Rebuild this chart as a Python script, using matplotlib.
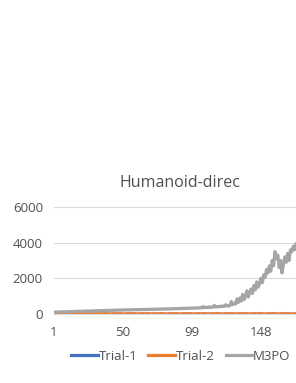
import numpy as np
import matplotlib.pyplot as plt

title = "Humanoid-direc"
series_names = ["Trial-1", "Trial-2", "M3PO"]
series_colors = ["#4472c4", "#ed7d31", "#a5a5a5"]
xtick_labels = [1, 50, 99, 148]
ytick_values = [0, 2000, 4000, 6000]

m3po = [
    90, 110, 100, 120, 105, 115, 130, 110, 125, 120,
    135, 120, 140, 130, 145, 135, 150, 140, 155, 145,
    160, 150, 165, 155, 170, 160, 175, 165, 180, 170,
    185, 175, 190, 180, 195, 185, 200, 190, 205, 195,
    210, 200, 215, 205, 220, 210, 225, 215, 230, 220,
    230, 225, 235, 228, 240, 232, 245, 236, 248, 240,
    250, 244, 255, 248, 258, 250, 262, 254, 265, 258,
    268, 260, 272, 264, 275, 268, 280, 270, 285, 275,
    290, 278, 295, 282, 300, 285, 305, 290, 310, 295,
    315, 300, 320, 305, 330, 310, 335, 315, 340, 320,
    345, 325, 350, 330, 360, 340, 420, 350, 380, 360,
    400, 370, 390, 380, 480, 390, 420, 400, 440, 410,
    450, 430, 520, 440, 480, 460, 700, 520, 600, 560,
    850, 650, 900, 720, 1100, 800, 1000, 1300, 950, 1200,
    1400, 1150, 1600, 1350, 1800, 1500, 1700, 2000, 1750, 2200,
    2050, 2500, 2300, 2700, 2400, 3000, 2700, 3500, 3100, 3300,
    2600, 3000, 2300, 2800, 3200, 2900, 3400, 3000, 3600, 3500,
    3800, 3600, 3950, 3800, 4000,
]

trial1 = [
    -10, -5, -15, -8, -12, -6, -14, -9, -11, -7,
] * 17 + [-10, -5, -15, -8, -12]

trial2 = [
    -20, 10, -5, 25, -15, 5, 30, -10, 15, -25,
] * 17 + [-20, 10, -5, 25, -15]

x = np.arange(1, len(m3po) + 1)

fig = plt.figure(figsize=(2.96, 3.83), dpi=100)
plt.rcParams['font.family'] = ['Open Sans', 'DejaVu Sans']

ax = fig.add_axes([54 / 296, 1 - 314 / 383, (313 - 54) / 296, (314 - 207) / 383])

for vals, name, col in zip([trial1, trial2, m3po], series_names, series_colors):
    ax.plot(x, vals, color=col, lw=2.3, label=name, solid_joinstyle='round')

ax.set_xlim(1, 185)
ax.set_ylim(0, 6000)
ax.set_xticks(xtick_labels)
ax.set_yticks(ytick_values)
ax.tick_params(length=0, labelsize=9.5, colors="#505050", pad=8)
ax.tick_params(axis='x', pad=9)
ax.grid(axis='y', color="#d9d9d9", lw=0.8)
ax.set_axisbelow(True)
for s in ["top", "right", "left"]:
    ax.spines[s].set_visible(False)
ax.spines["bottom"].set_color("#d9d9d9")

fig.text(180 / 296, 1 - 183 / 383, title, ha='center', va='center',
         fontsize=11.5, color="#505050")

fig.legend(loc='center', bbox_to_anchor=(181 / 296, 1 - 356 / 383), ncol=3,
           frameon=False, fontsize=9.5, labelcolor="#505050",
           handlelength=2.0, handletextpad=0.1, columnspacing=0.8)

fig.savefig("out.png", dpi=100)
